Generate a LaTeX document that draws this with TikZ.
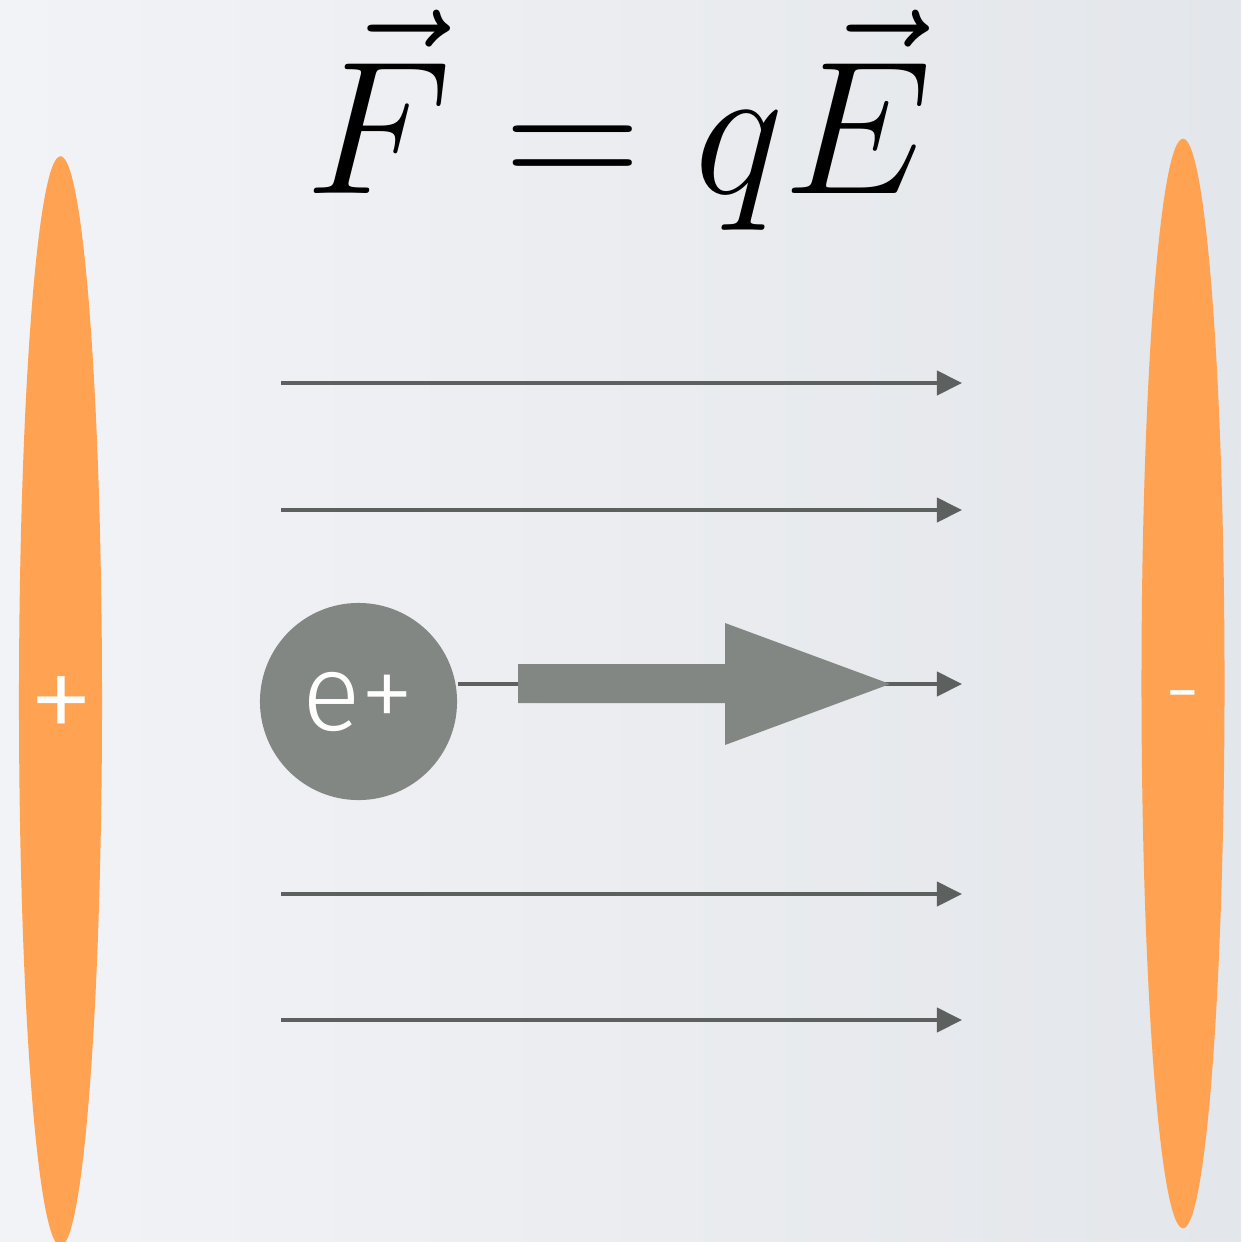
\documentclass[tikz,border=0pt]{standalone}
\usepackage{fix-cm}
\usepackage{fontspec}
\newfontfamily\thinsf{Fira Sans Light}
\usepackage{tikz}
\usetikzlibrary{arrows.meta}
\usetikzlibrary{shapes.geometric}
\definecolor{plateorange}{RGB}{255,163,83}
\definecolor{chargegray}{RGB}{130,135,132}
\definecolor{linegray}{RGB}{92,96,94}
\definecolor{bgleft}{RGB}{242,243,246}
\definecolor{bgright}{RGB}{227,230,234}

\begin{document}
\begin{tikzpicture}[x=0.01cm, y=-0.01cm,
  plate/.style={ellipse, fill=plateorange, inner sep=0pt, minimum width=0.83cm, minimum height=10.89cm},
  sign/.style={text=white, inner sep=0pt, font=\thinsf\fontsize{38}{44}\selectfont},
  fieldline/.style={draw=linegray, line width=0.04cm, -{Triangle[length=0.25cm, width=0.24cm]}},
]
\shade[left color=bgleft, right color=bgright] (0,0) rectangle (1241,1242);
\useasboundingbox (0,0) rectangle (1241,1242);

% plates
\node[plate] (pos) at (60.5,701) {};
\node[plate] (neg) at (1183,683.5) {};
\node[sign] (plus) at (61,711) {+};
\node[sign, font=\thinsf\fontsize{26}{30}\selectfont] (minus) at (1183,706) {-};

\node[anchor=base, inner sep=0pt, font=\fontsize{54}{62}\selectfont] (law) at (619,193) {$\vec{F} = q\vec{E}$};

% field lines
\coordinate (a1) at (281,383);
\coordinate (b1) at (962,383);
\coordinate (a2) at (281,510);
\coordinate (b2) at (962,510);
\coordinate (b3) at (962,684);
\coordinate (a4) at (281,894);
\coordinate (b4) at (962,894);
\coordinate (a5) at (281,1020);
\coordinate (b5) at (962,1020);
\draw[fieldline] (a1)--(b1);
\draw[fieldline] (a2)--(b2);
\draw[fieldline] (a4)--(b4);
\draw[fieldline] (a5)--(b5);

\node[circle, fill=chargegray, minimum size=1.97cm, inner sep=0pt, text=white,
  font=\thinsf\fontsize{31}{36}\selectfont] (charge) at (358.5,701.5) {e+};
\draw[fieldline] (charge.east |- b3)--(b3);

% force
\fill[chargegray] (518,664) -- (725,664) -- (725,623) -- (890,684) -- (725,745) -- (725,703) -- (518,703) -- cycle;
\end{tikzpicture}
\end{document}
